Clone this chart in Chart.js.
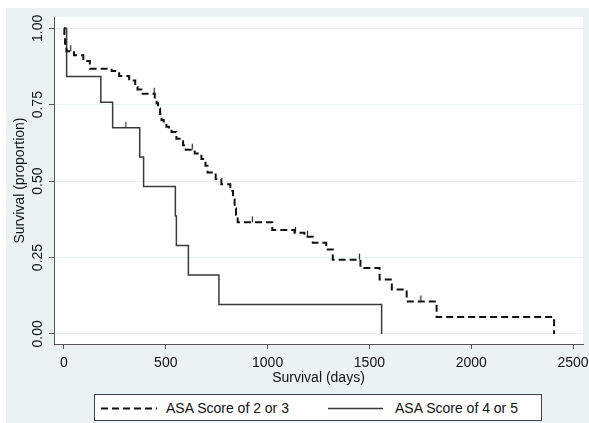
<!DOCTYPE html>
<html>
<head>
<meta charset="utf-8">
<script src="https://cdn.jsdelivr.net/npm/chart.js@4.4.1/dist/chart.umd.min.js"></script>
<style>
  html, body { margin: 0; padding: 0; background: #fff; }
  body { width: 589px; height: 423px; position: relative; overflow: hidden;
         font-family: "Liberation Sans", Arial, sans-serif; }
  #wrap { position: absolute; left: 6px; top: 8px; width: 583px; height: 415px; background: #eaf2f3; }
  #wrap canvas { position: absolute; left: 0; top: 0; }
  #legend { position: absolute; left: 88px; top: 386px; width: 448px; height: 27px; box-sizing: border-box;
            border: 1px solid #444; background: #fff; font-size: 14px; color: #111; }
  #legend .item { position: absolute; top: 0; height: 25px; line-height: 27px; white-space: nowrap; }
  #legend svg { position: absolute; top: 12px; }
</style>
</head>
<body>
<div id="wrap">
  <canvas id="kmChart" width="583" height="415"></canvas>
  <div id="legend">
    <svg style="left:6px" width="56" height="3"><line x1="0" y1="1.5" x2="56" y2="1.5" stroke="#111" stroke-width="2" stroke-dasharray="7 4"/></svg>
    <span class="item" style="left:71px">ASA Score of 2 or 3</span>
    <svg style="left:233px" width="55" height="3"><line x1="0" y1="1.5" x2="55" y2="1.5" stroke="#3a3a3a" stroke-width="1.5"/></svg>
    <span class="item" style="left:300px">ASA Score of 4 or 5</span>
  </div>
</div>
<script>
// --- Data ---
const dashTimes = [0, 2, 5, 8, 12, 49, 95, 127, 234, 271, 320, 350, 361, 381, 446, 455, 462, 472, 479, 490,
                   503, 515, 528, 552, 585, 598, 642, 675, 695, 705, 745, 773, 817, 830, 838, 845, 853,
                   1023, 1132, 1181, 1222, 1288, 1320, 1456, 1550, 1610, 1683, 1830, 2407];
const dashSurv = [1, 0.975, 0.95, 0.937, 0.925, 0.912, 0.893, 0.868, 0.86, 0.844, 0.829, 0.808, 0.8, 0.786, 0.77,
                  0.755, 0.738, 0.72, 0.70, 0.69, 0.678, 0.67, 0.661, 0.639, 0.617, 0.603, 0.59, 0.572, 0.55,
                  0.528, 0.507, 0.49, 0.468, 0.44, 0.41, 0.39, 0.365, 0.34, 0.331, 0.318, 0.298, 0.276, 0.243,
                  0.216, 0.178, 0.145, 0.106, 0.055, 0];
const dashCensor = [33, 443, 630, 925, 1137, 1196, 1451, 1753];

const solidTimes = [0, 13, 181, 239, 372, 391, 547, 552, 611, 761, 1560];
const solidSurv = [1, 0.842, 0.758, 0.675, 0.579, 0.482, 0.386, 0.289, 0.193, 0.096, 0];
const solidCensor = [304];

const xTicks = [0, 500, 1000, 1500, 2000, 2500];
const yTicks = [0, 0.25, 0.5, 0.75, 1];

// --- Helpers ---
function toPoints(times, surv) {
    return times.map((t, i) => ({ x: t, y: surv[i] }));
}

// survival value of the step curve at time t
function survAt(t, times, surv) {
    let s = surv[0];
    for (let i = 0; i < times.length; i++) {
        if (times[i] <= t) s = surv[i];
    }
    return s;
}

function censorPoints(cens, times, surv) {
    return cens.map(t => ({ x: t, y: survAt(t, times, surv) }));
}

// small upward tick used as the censoring mark
function makeTick(color) {
    const c = document.createElement('canvas');
    c.width = 3;
    c.height = 14;
    const g = c.getContext('2d');
    g.strokeStyle = color;
    g.lineWidth = 1.2;
    g.beginPath();
    g.moveTo(1.5, 1);
    g.lineTo(1.5, 7);
    g.stroke();
    return c;
}

const plotBg = {
    id: 'plotBg',
    beforeDraw(chart) {
        const { ctx, chartArea: a } = chart;
        ctx.save();
        ctx.fillStyle = '#ffffff';
        ctx.fillRect(a.left, a.top, a.right - a.left, a.bottom - a.top);
        ctx.restore();
    }
};

const textColor = '#111';
const axisColor = '#555';

const ctx = document.getElementById('kmChart').getContext('2d');
const kmChart = new Chart(ctx, {
    type: 'line',
    data: {
        datasets: [
            {
                label: 'ASA Score of 2 or 3',
                data: toPoints(dashTimes, dashSurv),
                stepped: 'before',
                borderColor: '#111',
                borderWidth: 2,
                borderDash: [7, 4],
                pointRadius: 0,
                fill: false
            },
            {
                label: 'ASA Score of 4 or 5',
                data: toPoints(solidTimes, solidSurv),
                stepped: 'before',
                borderColor: '#3a3a3a',
                borderWidth: 1.5,
                pointRadius: 0,
                fill: false
            },
            {
                type: 'scatter',
                label: 'censored 2/3',
                data: censorPoints(dashCensor, dashTimes, dashSurv),
                pointStyle: makeTick('#222'),
                pointRadius: 3
            },
            {
                type: 'scatter',
                label: 'censored 4/5',
                data: censorPoints(solidCensor, solidTimes, solidSurv),
                pointStyle: makeTick('#3a3a3a'),
                pointRadius: 3
            }
        ]
    },
    options: {
        responsive: false,
        animation: false,
        layout: { padding: { left: 0, top: 9, right: 6, bottom: 29 } },
        plugins: {
            legend: { display: false },
            tooltip: { enabled: false }
        },
        scales: {
            x: {
                type: 'linear',
                min: -49,
                max: 2549,
                afterBuildTicks: axis => { axis.ticks = xTicks.map(v => ({ value: v })); },
                afterFit: axis => { axis.height = 50; axis.paddingLeft = 0; axis.paddingRight = 0; },
                grid: { drawOnChartArea: false, tickLength: 5, tickColor: axisColor },
                border: { color: axisColor, width: 1 },
                ticks: {
                    color: textColor,
                    font: { family: 'Liberation Sans', size: 14 },
                    padding: 6,
                    maxRotation: 0,
                    autoSkip: false,
                    callback: v => String(v)
                },
                title: {
                    display: true,
                    text: 'Survival (days)',
                    color: textColor,
                    font: { family: 'Liberation Sans', size: 14 },
                    padding: { top: 0, bottom: 7 }
                }
            },
            y: {
                type: 'linear',
                min: -0.033,
                max: 1.037,
                afterBuildTicks: axis => { axis.ticks = yTicks.map(v => ({ value: v })); },
                afterFit: axis => { axis.width = 48; axis.paddingTop = 0; axis.paddingBottom = 0; },
                grid: { color: '#eaf2f3', lineWidth: 1, tickLength: 5, tickColor: axisColor },
                border: { color: axisColor, width: 1 },
                ticks: {
                    color: textColor,
                    font: { family: 'Liberation Sans', size: 14 },
                    minRotation: 90,
                    maxRotation: 90,
                    crossAlign: 'center',
                    padding: -3,
                    callback: v => v.toFixed(2)
                },
                title: {
                    display: true,
                    text: 'Survival (proportion)',
                    color: textColor,
                    font: { family: 'Liberation Sans', size: 14 },
                    padding: { top: 6, bottom: 0 }
                }
            }
        }
    },
    plugins: [plotBg]
});
</script>
</body>
</html>
